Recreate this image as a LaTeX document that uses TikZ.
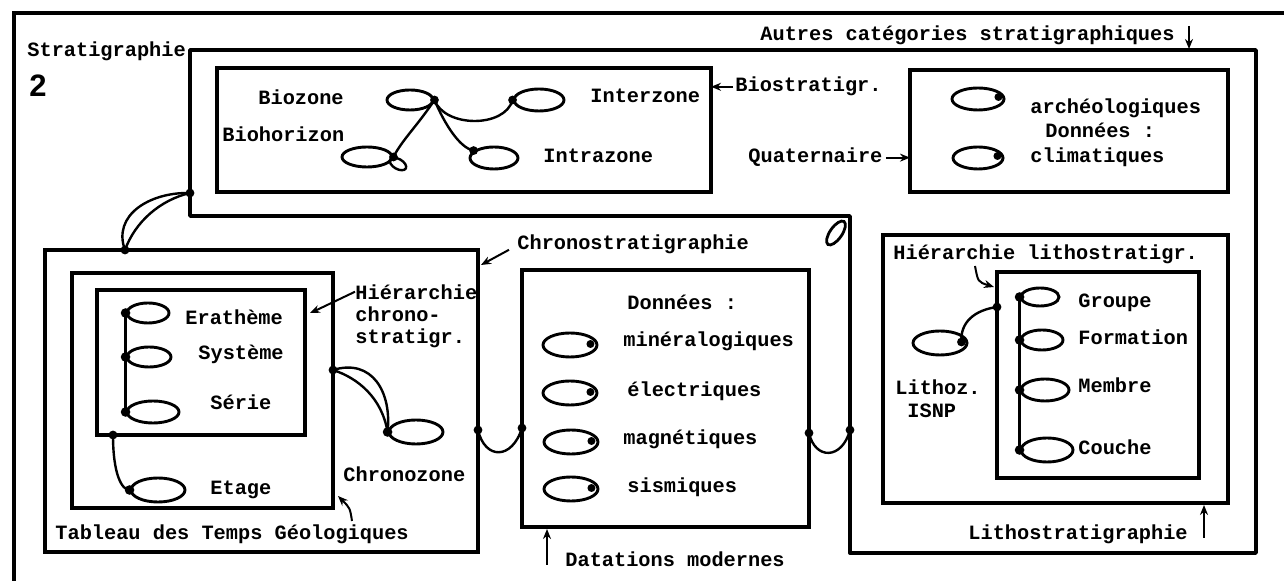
\documentclass[tikz,border=0pt]{standalone}
\usepackage{fontspec}
\usetikzlibrary{shapes.geometric,fit,arrows.meta,calc}
\newfontfamily\typewr{Liberation Mono}
\newfontfamily\numsans{Liberation Sans}
\begin{document}
\begin{tikzpicture}[x=0.5pt,y=-0.5pt,
  frame/.style={line width=2.3pt},
  wall/.style={line width=1.7pt, line join=round},
  box/.style={draw, line width=1.7pt, inner sep=0pt, outer sep=0pt},
  oval/.style={draw, ellipse, inner sep=0pt, line width=1.45pt},
  link/.style={line width=1.2pt},
  lbl/.style={anchor=base west, inner sep=0pt, font=\typewr\bfseries\fontsize{10.15pt}{12pt}\selectfont},
  tip/.style={-{Stealth[length=5pt,width=4pt]}, line width=1pt}
]
\useasboundingbox (0,0) rectangle (1284,581);

% outer page frame (top and left only)
\draw[frame] (14,581) -- (14,13) -- (1284,13);

% L-shaped region of the stratigraphic categories
\coordinate (fa) at (190,50);
\coordinate (fb) at (1256,50);
\coordinate (fc) at (1256,553);
\coordinate (fd) at (850,553);
\coordinate (fe) at (850,216);
\coordinate (ff) at (190,216);
\draw[wall] (fa) -- (fb) -- (fc) -- (fd) -- (fe) -- (ff) -- cycle;
\draw[line width=1.4pt, rotate around={-35:(836,233)}] (836,233) ellipse [x radius=3pt, y radius=7pt];

% boxes
\node[box, fit={(217,68) (711,192)}] (biobox) {};
\node[box, fit={(910,70) (1228,192)}] (quatbox) {};
\node[box, fit={(45,250) (478,552)}] (tabbox) {};
\node[box, fit={(72,273) (333,508)}] (chrA) {};
\node[box, fit={(97,290) (305,435)}] (chrB) {};
\node[box, fit={(522,270) (809,527)}] (datbox) {};
\node[box, fit={(883,235) (1228,503)}] (litA) {};
\node[box, fit={(997,272) (1199,478)}] (litB) {};

% titles
\node[lbl] (lstrat) at (27,57) {Stratigraphie};
\node[anchor=base west, inner sep=0pt, font=\numsans\bfseries\fontsize{15.5pt}{16pt}\selectfont] (lnum) at (29,97) {2};
\node[lbl] (lautres) at (760,41) {Autres catégories stratigraphiques};
\coordinate (autresTip) at (1189,49);
\draw[tip] (autresTip |- lautres.north) -- (autresTip);

% biostratigraphy
\node[lbl] (lbz) at (258,105) {Biozone};
\node[lbl] (lbh) at (222,142) {Biohorizon};
\node[lbl] (liz) at (590,103) {Interzone};
\node[lbl] (lia) at (543,163) {Intrazone};
\node[lbl] (lbiostr) at (735,92) {Biostratigr.};
\draw[tip] ($(lbiostr.west)+(-2,0)$) -- (biobox.east |- lbiostr.west);

\node[oval, minimum width=23pt, minimum height=10pt] (bz) at (410,100) {};
\node[oval, minimum width=25pt, minimum height=11pt] (iz) at (539,100) {};
\node[oval, minimum width=25pt, minimum height=10pt] (bh) at (367,157) {};
\node[oval, minimum width=24pt, minimum height=11pt] (ia) at (494,158) {};
\draw[link, rotate around={-30:(398,164)}] (398,164) ellipse [x radius=4.5pt, y radius=2.5pt];
\draw[link] (bz.east) .. controls (445,128) and (505,128) .. (iz.west);
\draw[link] (bz.east) .. controls (418,125) and (402,140) .. (bh.east);
\draw[link] (bz.east) .. controls (445,125) and (460,148) .. (ia.160);
\foreach \p in {bz.east, iz.west, bh.east, ia.160} \fill (\p) circle[radius=2.2pt];

% quaternary
\node[lbl] (lquat) at (748,163) {Quaternaire};
\draw[tip] ($(lquat.east)+(3,0)$) -- (quatbox.west |- lquat.east);
\node[oval, minimum width=26pt, minimum height=11pt] (arch) at (978,99) {};
\node[oval, minimum width=25pt, minimum height=11pt] (clim) at (978,158) {};
\fill ($(arch.east)+(-7,-2)$) circle[radius=2pt];
\fill ($(clim.east)+(-7,-2)$) circle[radius=2pt];
\node[lbl] (larch) at (1030,114) {archéologiques};
\node[lbl] (ldonq) at (1045,138) {Données :};
\node[lbl] (lclim) at (1030,163) {climatiques};

% link between the upper region and the time scale
\coordinate (t1) at (125,250);
\coordinate (s1) at (190,193);
\draw[link] (t1) .. controls (112,215) and (150,192) .. (s1);
\draw[link] (t1) .. controls (135,222) and (160,200) .. (s1);
\fill (t1) circle[radius=2.2pt];
\fill (s1) circle[radius=2.2pt];

% chronostratigraphy
\node[lbl] (lchrono) at (517,250) {Chronostratigraphie};
\draw[tip] ($(lchrono.west)+(-8,5)$) -- ($(tabbox.north east)+(3,15)$);
\node[oval, minimum width=21pt, minimum height=10pt] (er) at (148,313) {};
\node[oval, minimum width=22pt, minimum height=10pt] (sy) at (149,357) {};
\node[oval, minimum width=26pt, minimum height=11pt] (se) at (153,412) {};
\draw[link] (er.west) -- (se.west);
\foreach \p in {er.west, sy.west, se.west} \fill (\p) circle[radius=2.4pt];
\node[lbl] (ler) at (185,325) {Erathème};
\node[lbl] (lsy) at (198,360) {Système};
\node[lbl] (lse) at (210,410) {Série};
\node[lbl] (lh1) at (355,300) {Hiérarchie};
\node[lbl] (lh2) at (355,322) {chrono-};
\node[lbl] (lh3) at (355,344) {stratigr.};
\draw[tip] ($(lh1.west)+(0,-1)$) .. controls (335,302) .. ($(chrB.north east)+(5,23)$);

\node[oval, minimum width=27pt, minimum height=12pt] (et) at (158,490) {};
\coordinate (bB) at (113,435);
\draw[link] (bB) .. controls (113,475) and (122,490) .. (et.west);
\fill (bB) circle[radius=2.2pt];
\fill (et.west) circle[radius=2.4pt];
\node[lbl] (let) at (210,495) {Etage};

\node[oval, minimum width=27pt, minimum height=12pt] (cz) at (416,432) {};
\coordinate (cA) at (333,370);
\draw[link] (cA) .. controls (372,358) and (392,392) .. (cz.west);
\draw[link] (cA) .. controls (358,378) and (382,398) .. (cz.west);
\fill (cA) circle[radius=2.2pt];
\fill (cz.west) circle[radius=2.4pt];
\node[lbl] (lcz) at (343,482) {Chronozone};

\node[lbl] (ltab) at (55,540) {Tableau des Temps Géologiques};
\draw[tip] (352,521) .. controls (350,508) .. ($(chrA.south east)+(5,-12)$);

% connections across the middle
\coordinate (m1) at (478,430);
\coordinate (m2) at (522,428);
\coordinate (m3) at (809,433);
\coordinate (m4) at (850,430);
\draw[link] (m1) .. controls (485,460) and (512,460) .. (m2);
\draw[link] (m3) .. controls (815,460) and (842,460) .. (m4);
\foreach \p in {m1,m2,m3,m4} \fill (\p) circle[radius=2.2pt];

% modern dating
\node[lbl] (ldond) at (627,310) {Données :};
\node[lbl] (lmin) at (623,347) {minéralogiques};
\node[lbl] (lele) at (627,397) {électriques};
\node[lbl] (lmag) at (623,445) {magnétiques};
\node[lbl] (lsis) at (627,493) {sismiques};
\node[oval, minimum width=27pt, minimum height=12pt] (omin) at (570,345) {};
\node[oval, minimum width=27pt, minimum height=12pt] (oele) at (570,393) {};
\node[oval, minimum width=27pt, minimum height=12pt] (omag) at (571,442) {};
\node[oval, minimum width=27pt, minimum height=12pt] (osis) at (571,489) {};
\foreach \p in {omin,oele,omag,osis} \fill ($(\p.east)+(-8,-1)$) circle[radius=2pt];
\node[lbl] (ldat) at (565,567) {Datations modernes};
\coordinate (dmTip) at (547,529);
\draw[tip] ($(dmTip)+(0,36)$) -- (dmTip);

% lithostratigraphy
\node[lbl] (lhl) at (893,260) {Hiérarchie lithostratigr.};
\draw[tip] (975,266) .. controls (978,282) .. ($(litB.north west)+(-3,15)$);
\node[oval, minimum width=19pt, minimum height=9pt] (gr) at (1040,297) {};
\node[oval, minimum width=21pt, minimum height=10pt] (fo) at (1042,340) {};
\node[oval, minimum width=24pt, minimum height=11pt] (me) at (1045,390) {};
\node[oval, minimum width=26pt, minimum height=12pt] (co) at (1047,450) {};
\draw[link] (gr.west) -- (co.west);
\foreach \p in {gr,fo,me,co} \fill (\p.west) circle[radius=2.4pt];
\node[lbl] (lgr) at (1078,308) {Groupe};
\node[lbl] (lfo) at (1078,345) {Formation};
\node[lbl] (lme) at (1078,393) {Membre};
\node[lbl] (lco) at (1078,455) {Couche};

\node[oval, minimum width=27pt, minimum height=12pt] (lz) at (940,343) {};
\coordinate (lzdot) at ($(lz.east)+(-7,-1)$);
\coordinate (lB) at (997,307);
\draw[link] (lB) .. controls (975,310) and (960,322) .. (lzdot);
\fill (lB) circle[radius=2.2pt];
\fill (lzdot) circle[radius=2.2pt];
\node[lbl] (llz) at (895,395) {Lithoz.};
\node[lbl] (lisnp) at (907,418) {ISNP};

\node[lbl] (llitho) at (968,540) {Lithostratigraphie};
\coordinate (lsTip) at (1204,505);
\draw[tip] ($(lsTip)+(0,33)$) -- (lsTip);
\end{tikzpicture}
\end{document}
